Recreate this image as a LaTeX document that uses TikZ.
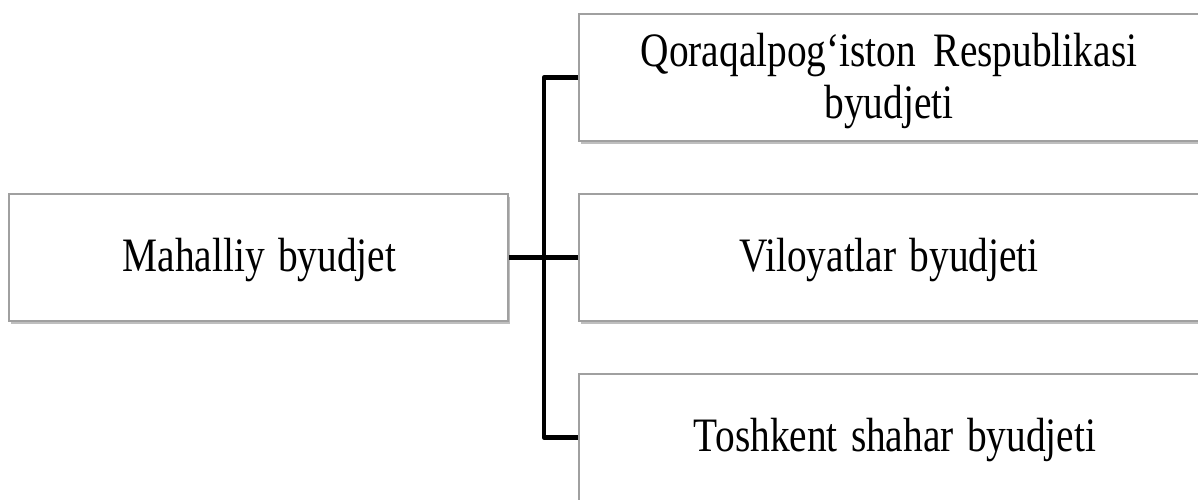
\documentclass[tikz,border=0pt]{standalone}
\usepackage{fontspec}
\setmainfont{Liberation Serif}[WordSpace=1.35]
\usetikzlibrary{shadows}
\newcommand{\sq}[1]{\scalebox{0.82}[1]{#1}}
\tikzset{
  box/.style={draw={rgb,255:red,160;green,160;blue,160}, line width=2pt, fill=white,
    minimum height=127pt, inner sep=0pt,
    drop shadow={shadow xshift=2pt, shadow yshift=-3pt, opacity=0.25, fill=black}},
  leftbox/.style={box, minimum width=499pt},
  rightbox/.style={box, minimum width=622pt, anchor=west},
  conn/.style={line width=4.5pt, black, line join=round},
  lbl/.style={font=\fontsize{48}{52}\selectfont, align=center}
}
\begin{document}
\begin{tikzpicture}[x=1pt,y=-1pt]
\useasboundingbox (0,0) rectangle (1198,500);
\clip (0,0) rectangle (1198,500);
\node[leftbox] (m) at (258.5,257.5) {};
\node[lbl] (ml) at (259.5,260.5) {\sq{Mahalliy byudjet}};
\node[rightbox] (q) at (578,77.5) {};
\node[lbl] (ql) at (889,81.5) {\sq{Qoraqalpog‘iston\hspace{0.45em}Respublikasi}\\\sq{byudjeti}};
\node[rightbox] (v) at (578,257.5) {};
\node[lbl] (vl) at (889,260.5) {\sq{Viloyatlar byudjeti}};
\node[rightbox] (t) at (578,437.5) {};
\node[lbl] (tl) at (895,440.5) {\sq{Toshkent shahar byudjeti}};
\coordinate (j) at (544,257.5);
\draw[conn] (m.east) -- (j) -- (v.west);
\draw[conn] (q.west) -- (q.west -| j) -- (t.west -| j) -- (t.west);
\end{tikzpicture}
\end{document}
